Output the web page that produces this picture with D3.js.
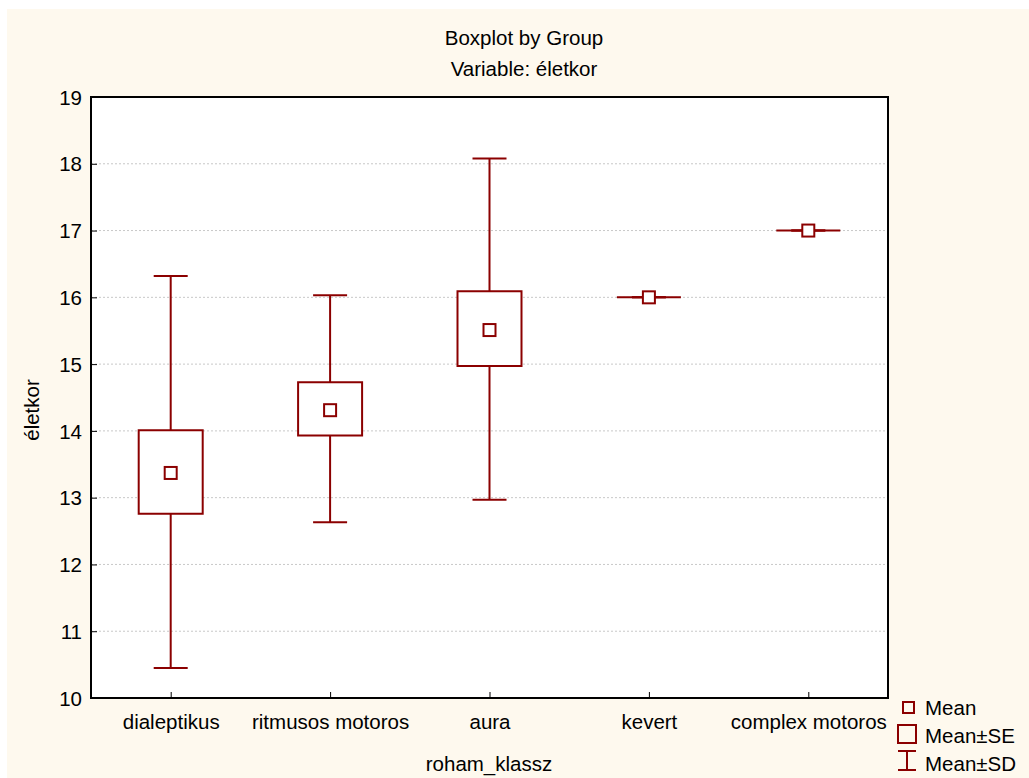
<!DOCTYPE html>
<html>
<head>
<meta charset="utf-8">
<script src="https://cdn.jsdelivr.net/npm/d3@7"></script>
<style>
  body { margin: 0; background: #ffffff; }
  text { font-family: "Liberation Sans", Arial, sans-serif; fill: #000; }
</style>
</head>
<body>
<div id="chart"></div>
<script>
// data
var categories = ["dialeptikus", "ritmusos motoros", "aura", "kevert", "complex motoros"];
var means  = [13.37, 14.31, 15.51, 16.00, 17.00];
var seLow  = [12.76, 13.93, 14.97, 16.00, 17.00];
var seHigh = [14.01, 14.73, 16.09, 16.00, 17.00];
var sdLow  = [10.45, 12.63, 12.97, 16.00, 17.00];
var sdHigh = [16.32, 16.03, 18.08, 16.00, 17.00];
var yTicks = [10, 11, 12, 13, 14, 15, 16, 17, 18, 19];
var legendItems = ["Mean", "Mean\u00b1SE", "Mean\u00b1SD"];

var W = 1029, H = 778;
var red = "#8b0000";
var fs = "20.5px";
var margin = {top: 97, right: 141, bottom: 80, left: 91};
var width = W - margin.left - margin.right,
    height = H - margin.top - margin.bottom;

var svg = d3.select("#chart").append("svg")
    .attr("width", W).attr("height", H);

// cream background
svg.append("rect").attr("x", 7).attr("y", 9)
    .attr("width", W - 7).attr("height", H - 9)
    .attr("fill", "#fef9ee");

svg.append("text").attr("x", 524).attr("y", 45)
    .attr("text-anchor", "middle").style("font-size", fs)
    .text("Boxplot by Group");
svg.append("text").attr("x", 524).attr("y", 76)
    .attr("text-anchor", "middle").style("font-size", fs)
    .text("Variable: életkor");

var g = svg.append("g").attr("transform", "translate(" + margin.left + "," + margin.top + ")");

var x = d3.scalePoint().domain(categories).range([0, width]).padding(0.5);
var y = d3.scaleLinear().domain([10, 19]).range([height, 0]);

g.append("rect").attr("width", width).attr("height", height).attr("fill", "#fff");

// grid
g.selectAll(".grid").data(yTicks.slice(1, -1)).enter().append("line")
    .attr("class", "grid")
    .attr("x1", 0).attr("x2", width)
    .attr("y1", function(d) { return y(d); }).attr("y2", function(d) { return y(d); })
    .attr("stroke", "#c8c8c8").attr("stroke-width", 1)
    .attr("stroke-dasharray", "2,2");

// axes
var yAxis = g.append("g")
    .call(d3.axisLeft(y).tickValues(yTicks).tickSizeInner(-6).tickSizeOuter(0));
var xAxis = g.append("g").attr("transform", "translate(0," + height + ")")
    .call(d3.axisBottom(x).tickSizeInner(-6).tickSizeOuter(0));
[yAxis, xAxis].forEach(function(a) {
  a.select(".domain").remove();
  a.selectAll("line").attr("stroke", "#000");
  a.selectAll("text").style("font-size", fs).style("font-family", "Liberation Sans, Arial, sans-serif");
});
yAxis.selectAll("text").attr("dy", "0.35em").attr("x", -9);
xAxis.selectAll("text").attr("y", 31).attr("dy", 0);

var idx = d3.range(categories.length);
var boxW = 64, capW = 34, meanS = 12;

// whiskers
var wh = g.selectAll(".wh").data(idx).enter().append("g").attr("class", "wh")
    .attr("stroke", red).attr("stroke-width", 2);
wh.append("line")
    .attr("x1", function(i) { return x(categories[i]); })
    .attr("x2", function(i) { return x(categories[i]); })
    .attr("y1", function(i) { return y(sdLow[i]); })
    .attr("y2", function(i) { return y(sdHigh[i]); });
wh.append("line")
    .attr("x1", function(i) { return x(categories[i]) - capW / 2; })
    .attr("x2", function(i) { return x(categories[i]) + capW / 2; })
    .attr("y1", function(i) { return y(sdHigh[i]); })
    .attr("y2", function(i) { return y(sdHigh[i]); });
wh.append("line")
    .attr("x1", function(i) { return x(categories[i]) - capW / 2; })
    .attr("x2", function(i) { return x(categories[i]) + capW / 2; })
    .attr("y1", function(i) { return y(sdLow[i]); })
    .attr("y2", function(i) { return y(sdLow[i]); });

// SE boxes (paths so zero-height boxes still draw as a line)
g.selectAll(".se").data(idx).enter().append("path").attr("class", "se")
    .attr("d", function(i) {
      var x0 = x(categories[i]) - boxW / 2, x1 = x0 + boxW;
      var y0 = y(seHigh[i]), y1 = y(seLow[i]);
      return "M" + x0 + "," + y0 + "H" + x1 + "V" + y1 + "H" + x0 + "Z";
    })
    .attr("fill", "#fff").attr("stroke", red).attr("stroke-width", 2);

// means
g.selectAll(".mean").data(idx).enter().append("rect").attr("class", "mean")
    .attr("x", function(i) { return x(categories[i]) - meanS / 2; })
    .attr("y", function(i) { return y(means[i]) - meanS / 2; })
    .attr("width", meanS).attr("height", meanS)
    .attr("fill", "#fff").attr("stroke", red).attr("stroke-width", 2);

// frame
g.append("rect").attr("width", width).attr("height", height)
    .attr("fill", "none").attr("stroke", "#000").attr("stroke-width", 2);

// axis titles
svg.append("text").attr("transform", "translate(39,410) rotate(-90)")
    .attr("text-anchor", "middle").style("font-size", fs).text("életkor");
svg.append("text").attr("x", 489).attr("y", 771)
    .attr("text-anchor", "middle").style("font-size", fs).text("roham_klassz");

// legend
var lg = svg.append("g");
lg.append("rect").attr("x", 903).attr("y", 702).attr("width", 11).attr("height", 11)
    .attr("fill", "none").attr("stroke", red).attr("stroke-width", 2);
lg.append("rect").attr("x", 898).attr("y", 725).attr("width", 18).attr("height", 18)
    .attr("fill", "none").attr("stroke", red).attr("stroke-width", 2);
lg.append("path").attr("d", "M898,751H916M907,751V770M898,770H916")
    .attr("fill", "none").attr("stroke", red).attr("stroke-width", 2);
lg.selectAll("text").data(legendItems).enter().append("text")
    .attr("x", 925).attr("y", function(d, i) { return 715 + i * 28; })
    .style("font-size", fs).text(function(d) { return d; });
</script>
</body>
</html>
